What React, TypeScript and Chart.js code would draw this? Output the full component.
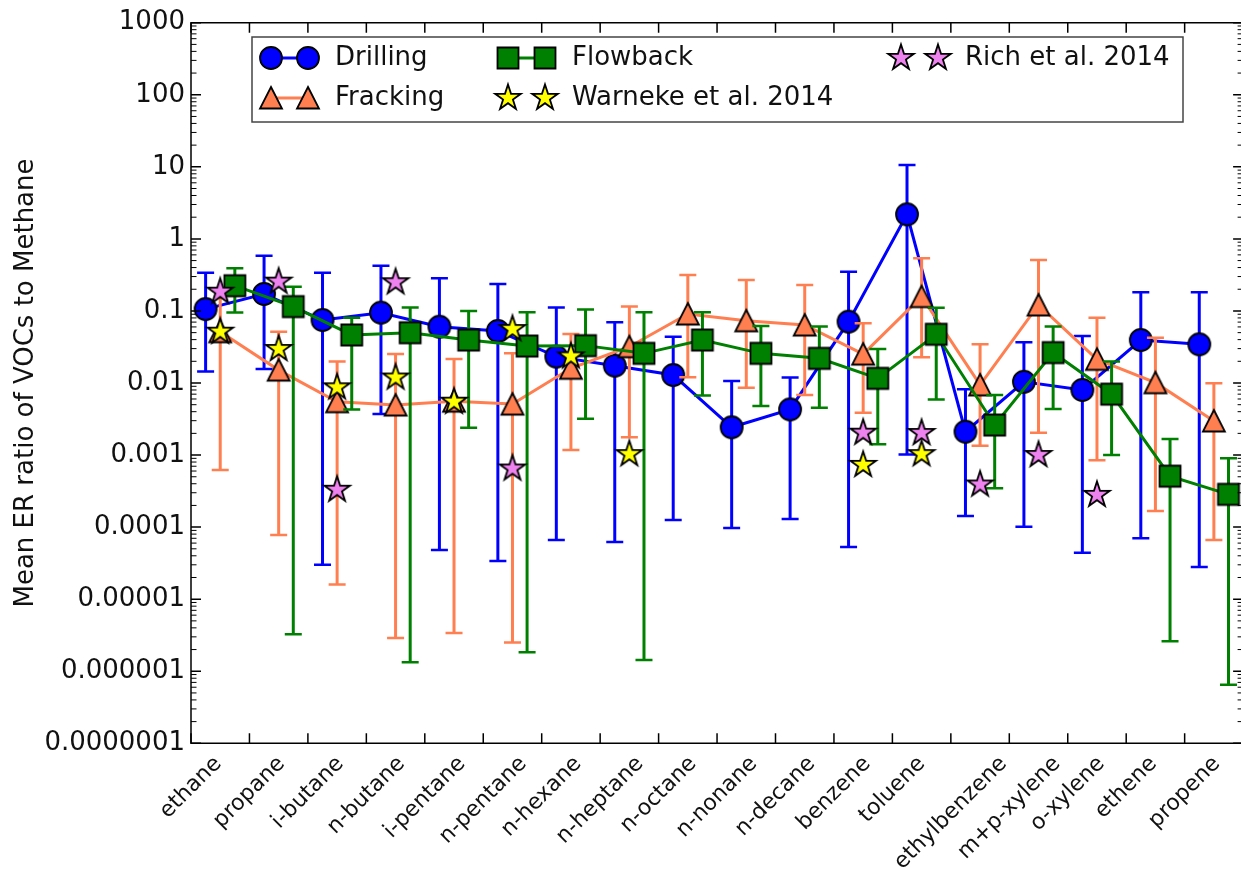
import React, { useEffect, useRef } from 'react';
import { Chart, registerables } from 'chart.js';

Chart.register(...registerables);

// ---------- data ----------
const categories = [
  'ethane', 'propane', 'i-butane', 'n-butane', 'i-pentane', 'n-pentane', 'n-hexane', 'n-heptane',
  'n-octane', 'n-nonane', 'n-decane', 'benzene', 'toluene', 'ethylbenzene', 'm+p-xylene', 'o-xylene',
  'ethene', 'propene',
];

const drilling = [0.106, 0.172, 0.0748, 0.0946, 0.0604, 0.0527, 0.0232, 0.0174, 0.0129, 0.00243, 0.0043, 0.071, 2.19, 0.00211, 0.0104, 0.008, 0.0395, 0.0344];
const drillingHi = [0.34, 0.585, 0.34, 0.425, 0.284, 0.237, 0.112, 0.0695, 0.044, 0.0107, 0.0119, 0.35, 10.6, 0.0082, 0.0367, 0.0449, 0.181, 0.181];
const drillingLo = [0.0144, 0.0156, 3.0e-5, 0.0037, 4.8e-5, 3.4e-5, 6.6e-5, 6.2e-5, 1.26e-4, 9.7e-5, 1.3e-4, 5.3e-5, 0.00102, 1.43e-4, 1.01e-4, 4.4e-5, 7.0e-5, 2.8e-5];

const fracking = [0.0515, 0.0151, 0.0055, 0.00495, 0.0056, 0.0051, 0.016, 0.0319, 0.0906, 0.073, 0.0638, 0.0252, 0.158, 0.0094, 0.121, 0.0213, 0.0101, 0.00297];
const frackingHi = [0.19, 0.0515, 0.0198, 0.0252, 0.0215, 0.0258, 0.048, 0.115, 0.315, 0.269, 0.229, 0.0674, 0.537, 0.0344, 0.509, 0.0806, 0.0426, 0.0099];
const frackingLo = [0.00062, 7.8e-5, 1.6e-5, 2.9e-6, 3.4e-6, 2.5e-6, 0.00118, 0.00176, 0.012, 0.0086, 0.0068, 0.00387, 0.0227, 0.00135, 0.00204, 8.5e-4, 1.67e-4, 6.6e-5];

const flowback = [0.224, 0.115, 0.0464, 0.0499, 0.0395, 0.0326, 0.033, 0.0258, 0.0395, 0.0258, 0.022, 0.0116, 0.0474, 0.00261, 0.0264, 0.007, 5.1e-4, 2.85e-4];
const flowbackHi = [0.39, 0.217, 0.0806, 0.112, 0.0998, 0.0957, 0.105, 0.0957, 0.0957, 0.0618, 0.0606, 0.0296, 0.111, 0.0068, 0.0606, 0.0198, 0.00167, 9.0e-4];
const flowbackLo = [0.095, 3.26e-6, 0.0043, 1.33e-6, 0.0024, 1.83e-6, 0.0032, 1.43e-6, 0.0067, 0.0048, 0.00454, 0.00141, 0.0059, 3.46e-4, 0.00435, 0.001, 2.6e-6, 6.5e-7];

const warneke = [0.0515, 0.0296, 0.0087, 0.0119, 0.0055, 0.056, 0.0234, 0.00103, null, null, null, 0.00073, 0.00103, null, null, null, null, null];
const rich = [0.185, 0.255, 3.3e-4, 0.25, null, 6.5e-4, null, null, null, null, null, 0.00204, 0.00202, 3.9e-4, 0.001, 2.8e-4, null, null];

const yTickLabels = ['0.0000001', '0.000001', '0.00001', '0.0001', '0.001', '0.01', '0.1', '1', '10', '100', '1000'];
const yTitle = 'Mean ER ratio of VOCs to Methane';

// ---------- style ----------
const BLUE = '#0000ff';
const CORAL = '#ff7f50';
const GREEN = '#008000';
const YELLOW = '#ffff00';
const VIOLET = '#ee82ee';
const FONT = '"DejaVu Sans", "Bitstream Vera Sans", sans-serif';
const W = 1241;
const H = 870;
const STEP = 58.45;
const XMAX = (W - 191) / STEP;

type Kind = 'circle' | 'square' | 'triangle' | 'star';

function pathMarker(ctx: CanvasRenderingContext2D, kind: Kind, x: number, y: number) {
  ctx.beginPath();
  if (kind === 'circle') {
    ctx.arc(x, y, 11, 0, Math.PI * 2);
  } else if (kind === 'square') {
    ctx.rect(x - 10.5, y - 10.5, 21, 21);
  } else if (kind === 'triangle') {
    ctx.moveTo(x, y - 11);
    ctx.lineTo(x + 11, y + 10.5);
    ctx.lineTo(x - 11, y + 10.5);
    ctx.closePath();
  } else {
    const R = 13.5;
    const r = R * 0.381966;
    for (let i = 0; i < 10; i++) {
      const a = -Math.PI / 2 + (i * Math.PI) / 5;
      const rr = i % 2 === 0 ? R : r;
      const px = x + rr * Math.cos(a);
      const py = y + rr * Math.sin(a);
      if (i === 0) ctx.moveTo(px, py);
      else ctx.lineTo(px, py);
    }
    ctx.closePath();
  }
}

function drawMarker(ctx: CanvasRenderingContext2D, kind: Kind, x: number, y: number, fill: string) {
  ctx.save();
  pathMarker(ctx, kind, x, y);
  ctx.fillStyle = fill;
  ctx.fill();
  ctx.lineWidth = 1.8;
  ctx.strokeStyle = '#000';
  ctx.lineJoin = 'miter';
  ctx.stroke();
  ctx.restore();
}

function markerImage(kind: Kind, fill: string): HTMLCanvasElement {
  const c = document.createElement('canvas');
  c.width = 34;
  c.height = 34;
  const ctx = c.getContext('2d')!;
  drawMarker(ctx, kind, 17, 17, fill);
  return c;
}

const errSpecs: Record<string, { off: number; lo: number[]; hi: number[]; color: string }> = {
  Drilling: { off: 0.25, lo: drillingLo, hi: drillingHi, color: BLUE },
  Fracking: { off: 0.5, lo: frackingLo, hi: frackingHi, color: CORAL },
  Flowback: { off: 0.75, lo: flowbackLo, hi: flowbackHi, color: GREEN },
};

const errorBarPlugin = {
  id: 'errorBars',
  beforeDatasetDraw(chart: any, args: any) {
    const ds = chart.data.datasets[args.index];
    const spec = errSpecs[ds.label];
    if (!spec) return;
    const { ctx } = chart;
    const xs = chart.scales.x;
    const ys = chart.scales.y;
    ctx.save();
    ctx.strokeStyle = spec.color;
    for (let i = 0; i < categories.length; i++) {
      const x = xs.getPixelForValue(i + spec.off);
      const yh = ys.getPixelForValue(spec.hi[i]);
      const yl = ys.getPixelForValue(spec.lo[i]);
      ctx.lineWidth = 3;
      ctx.beginPath();
      ctx.moveTo(x, yh);
      ctx.lineTo(x, yl);
      ctx.stroke();
      ctx.lineWidth = 2.5;
      ctx.beginPath();
      ctx.moveTo(x - 8.5, yh);
      ctx.lineTo(x + 8.5, yh);
      ctx.moveTo(x - 8.5, yl);
      ctx.lineTo(x + 8.5, yl);
      ctx.stroke();
    }
    ctx.restore();
  },
};

const framePlugin = {
  id: 'frame',
  afterDatasetsDraw(chart: any) {
    const { ctx, chartArea } = chart;
    const xs = chart.scales.x;
    const ys = chart.scales.y;
    const left = chartArea.left;
    const top = chartArea.top;
    const bottom = chartArea.bottom;
    const right = xs.getPixelForValue(18);
    ctx.save();
    ctx.strokeStyle = '#000';
    ctx.lineWidth = 1.5;
    ctx.beginPath();
    ctx.moveTo(left, top);
    ctx.lineTo(right, top);
    ctx.lineTo(right, bottom);
    ctx.lineTo(left, bottom);
    ctx.closePath();
    ctx.stroke();

    // y ticks (log major + minor), both sides
    for (let e = -7; e <= 3; e++) {
      const y = ys.getPixelForValue(Math.pow(10, e));
      ctx.lineWidth = 1.5;
      ctx.beginPath();
      ctx.moveTo(left, y);
      ctx.lineTo(left + 10, y);
      ctx.moveTo(right, y);
      ctx.lineTo(right - 10, y);
      ctx.stroke();
      if (e < 3) {
        ctx.lineWidth = 1;
        for (let m = 2; m <= 9; m++) {
          const ym = ys.getPixelForValue(m * Math.pow(10, e));
          ctx.beginPath();
          ctx.moveTo(left, ym);
          ctx.lineTo(left + 5.5, ym);
          ctx.moveTo(right, ym);
          ctx.lineTo(right - 5.5, ym);
          ctx.stroke();
        }
      }
    }
    // x ticks top & bottom
    ctx.lineWidth = 1.5;
    for (let i = 0; i < categories.length; i++) {
      const x = xs.getPixelForValue(i);
      ctx.beginPath();
      ctx.moveTo(x, bottom);
      ctx.lineTo(x, bottom - 10);
      ctx.moveTo(x, top);
      ctx.lineTo(x, top + 10);
      ctx.stroke();
    }

    // y tick labels
    ctx.fillStyle = '#111';
    ctx.font = `26px ${FONT}`;
    ctx.textAlign = 'right';
    ctx.textBaseline = 'middle';
    yTickLabels.forEach((lab, k) => {
      const y = ys.getPixelForValue(Math.pow(10, k - 7));
      ctx.fillText(lab, left - 6, y);
    });

    // x tick labels rotated 45, centred on tick
    const xf = 22;
    ctx.font = `${xf}px ${FONT}`;
    ctx.textAlign = 'center';
    ctx.textBaseline = 'middle';
    categories.forEach((lab, i) => {
      const x = xs.getPixelForValue(i);
      const w = ctx.measureText(lab).width;
      const h = xf * 1.164;
      const bb = 0.7071 * (w + h);
      ctx.save();
      ctx.translate(x, bottom + 8 + bb / 2);
      ctx.rotate(-Math.PI / 4);
      ctx.fillText(lab, 0, 0);
      ctx.restore();
    });

    // y title
    ctx.font = `26px ${FONT}`;
    ctx.save();
    ctx.translate(26, (top + bottom) / 2);
    ctx.rotate(-Math.PI / 2);
    ctx.textAlign = 'center';
    ctx.textBaseline = 'middle';
    ctx.fillText(yTitle, 0, 0);
    ctx.restore();

    // legend
    const lx = 252, ly = 37, lw = 931, lh = 85;
    ctx.fillStyle = '#fff';
    ctx.fillRect(lx, ly, lw, lh);
    ctx.strokeStyle = '#444';
    ctx.lineWidth = 1.5;
    ctx.strokeRect(lx, ly, lw, lh);
    const entries: { label: string; kind: Kind; fill: string; line: string | null; x: number; y: number }[] = [
      { label: 'Drilling', kind: 'circle', fill: BLUE, line: BLUE, x: 271, y: 58 },
      { label: 'Fracking', kind: 'triangle', fill: CORAL, line: CORAL, x: 271, y: 98 },
      { label: 'Flowback', kind: 'square', fill: GREEN, line: GREEN, x: 508, y: 58 },
      { label: 'Warneke et al. 2014', kind: 'star', fill: YELLOW, line: null, x: 508, y: 98 },
      { label: 'Rich et al. 2014', kind: 'star', fill: VIOLET, line: null, x: 901, y: 58 },
    ];
    ctx.font = `26px ${FONT}`;
    ctx.textAlign = 'left';
    ctx.textBaseline = 'middle';
    entries.forEach((en) => {
      const x2 = en.x + 37;
      if (en.line) {
        ctx.strokeStyle = en.line;
        ctx.lineWidth = 3;
        ctx.beginPath();
        ctx.moveTo(en.x, en.y);
        ctx.lineTo(x2, en.y);
        ctx.stroke();
      }
      drawMarker(ctx, en.kind, en.x, en.y, en.fill);
      drawMarker(ctx, en.kind, x2, en.y, en.fill);
      ctx.fillStyle = '#111';
      ctx.fillText(en.label, x2 + 27, en.y);
    });
    ctx.restore();
  },
};

const pts = (vals: (number | null)[], off: number) =>
  vals.map((v, i) => (v == null ? null : { x: i + off, y: v })).filter((p) => p !== null) as { x: number; y: number }[];

export default function App() {
  const ref = useRef<HTMLCanvasElement | null>(null);
  useEffect(() => {
    const canvas = ref.current!;
    const imgs = {
      circle: markerImage('circle', BLUE),
      triangle: markerImage('triangle', CORAL),
      square: markerImage('square', GREEN),
      yStar: markerImage('star', YELLOW),
      vStar: markerImage('star', VIOLET),
    };
    const common = { pointRadius: 10, tension: 0, fill: false, borderWidth: 3, clip: false as any };
    const chart = new Chart(canvas, {
      type: 'line',
      data: {
        datasets: [
          { ...common, label: 'Rich et al. 2014', data: pts(rich, 0.5), showLine: false, pointStyle: imgs.vStar, borderColor: VIOLET, backgroundColor: VIOLET },
          { ...common, label: 'Warneke et al. 2014', data: pts(warneke, 0.5), showLine: false, pointStyle: imgs.yStar, borderColor: YELLOW, backgroundColor: YELLOW },
          { ...common, label: 'Flowback', data: pts(flowback, 0.75), pointStyle: imgs.square, borderColor: GREEN, backgroundColor: GREEN },
          { ...common, label: 'Fracking', data: pts(fracking, 0.5), pointStyle: imgs.triangle, borderColor: CORAL, backgroundColor: CORAL },
          { ...common, label: 'Drilling', data: pts(drilling, 0.25), pointStyle: imgs.circle, borderColor: BLUE, backgroundColor: BLUE },
        ] as any,
      },
      options: {
        animation: false,
        responsive: false,
        maintainAspectRatio: false,
        devicePixelRatio: 1,
        events: [],
        layout: { autoPadding: false, padding: { left: 191, top: 22.7, right: 0, bottom: H - 743.3 } },
        scales: {
          x: { type: 'linear', min: 0, max: XMAX, display: false },
          y: { type: 'logarithmic', min: 1e-7, max: 1000, display: false },
        },
        plugins: { legend: { display: false }, tooltip: { enabled: false } },
      } as any,
      plugins: [errorBarPlugin, framePlugin],
    });
    return () => chart.destroy();
  }, []);
  return (
    <div style={{ position: 'fixed', left: 0, top: 0, width: W, height: H, background: '#fff' }}>
      <canvas ref={ref} width={W} height={H} style={{ width: W, height: H, display: 'block' }} />
    </div>
  );
}
